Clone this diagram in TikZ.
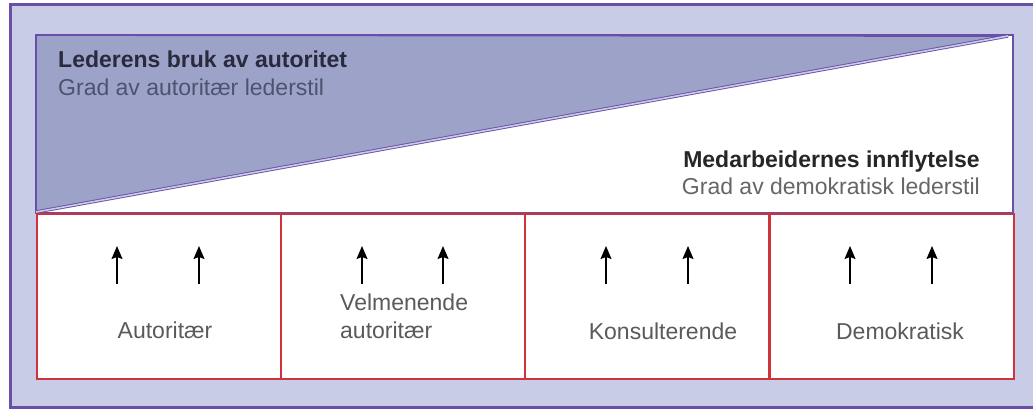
\documentclass[tikz,border=0pt]{standalone}
\usepackage{fontspec}
\setmainfont{Liberation Sans}
\usetikzlibrary{arrows.meta}
\definecolor{bglav}{HTML}{C9CCE6}
\definecolor{frame}{HTML}{6A4FA8}
\definecolor{trifill}{HTML}{9DA3C8}
\definecolor{boxred}{HTML}{D0323A}
\definecolor{headdark}{HTML}{2A2A3E}
\definecolor{subdark}{HTML}{4E5270}
\definecolor{labgray}{HTML}{5A5A5A}
\tikzset{
  stylebox/.style={draw=boxred, line width=1.6pt, fill=white, minimum width=244pt, minimum height=165pt, inner sep=0pt},
  uparrow/.style={-{Stealth[length=13pt,width=11pt,inset=2pt]}, line width=1.4pt, black},
  boxlabel/.style={font=\fontsize{23}{28}\selectfont, text=labgray, inner sep=0pt},
  headbold/.style={font=\fontsize{23}{28}\selectfont\bfseries, inner sep=0pt},
  headsub/.style={font=\fontsize{23}{28}\selectfont, inner sep=0pt}
}
\begin{document}
\begin{tikzpicture}[x=1pt,y=-1pt]
\useasboundingbox (0,0) rectangle (1033,409);
\fill[white] (0,0) rectangle (1033,409);
% outer frame
\draw[frame, line width=3pt, fill=bglav] (10,5) rectangle (1045,407);
% white panel
\draw[frame, line width=1.2pt, fill=white] (36,35) rectangle (1013,213);
% triangle
\coordinate (tl) at (36,35);
\coordinate (tr) at (1008,36);
\coordinate (bl) at (36,212);
\fill[trifill] (tl) -- (tr) -- (bl) -- cycle;
\draw[frame, line width=1.8pt] (bl) -- (tl) -- (tr);
\draw[frame, line width=0.9pt, double=bglav, double distance=1.6pt] (bl) -- (tr);
% headings
\node[headbold, text=headdark, anchor=base west] (h1) at (58,68) {Lederens bruk av autoritet};
\node[headsub, text=subdark, anchor=base west] (s1) at (58,96) {Grad av autoritær lederstil};
\node[headbold, text=black!85, anchor=base east] (h2) at (980,167) {Medarbeidernes innflytelse};
\node[headsub, text=black!60, anchor=base east] (s2) at (980,194) {Grad av demokratisk lederstil};
% boxes
\node[stylebox, anchor=north west] (b1) at (36,213) {};
\node[stylebox, anchor=north west] (b2) at (280,213) {};
\node[stylebox, anchor=north west] (b3) at (524,213) {};
\node[stylebox, anchor=north west] (b4) at (769,213) {};
% arrows
\foreach \n/\xa/\xb in {1/117/199, 2/362/443, 3/606/688, 4/850/932}{
  \coordinate (a\n s) at (\xa,284);
  \coordinate (a\n e) at (\xa,246);
  \coordinate (c\n s) at (\xb,284);
  \coordinate (c\n e) at (\xb,246);
  \draw[uparrow] (a\n s) -- (a\n e);
  \draw[uparrow] (c\n s) -- (c\n e);
}
% labels
\node[boxlabel, anchor=base] (l1) at (165,338) {Autoritær};
\node[boxlabel, anchor=base west] (l2a) at (340,310) {Velmenende};
\node[boxlabel, anchor=base west] (l2b) at (340,338) {autoritær};
\node[boxlabel, anchor=base] (l3) at (663,339) {Konsulterende};
\node[boxlabel, anchor=base] (l4) at (900,339) {Demokratisk};
\end{tikzpicture}
\end{document}
